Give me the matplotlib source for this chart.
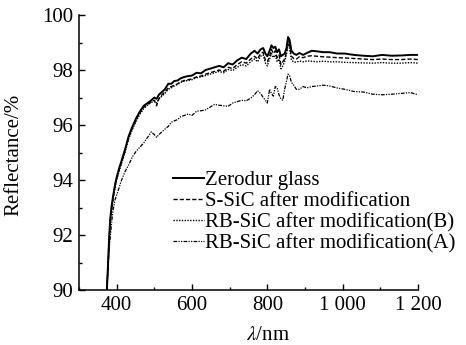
import matplotlib
matplotlib.use("Agg")
import matplotlib.pyplot as plt
from matplotlib.ticker import MultipleLocator, FixedLocator

plt.rcParams['font.family'] = ['Liberation Serif', 'DejaVu Serif']
plt.rcParams['mathtext.fontset'] = 'stix'

# wavelength (nm)
wl = [374, 377, 380, 383, 387, 391, 396, 400, 406, 413,
      422, 432, 442, 452, 462, 472, 482, 492, 500, 506,
      512, 520, 528, 537, 545, 553, 562, 570, 580, 590,
      600, 612, 624, 636, 648, 660, 672, 684, 696, 708,
      720, 732, 744, 756, 766, 774, 782, 789, 795, 800,
      806, 811, 816, 821, 826, 831, 836, 841, 846, 851,
      855, 859, 864, 870, 877, 885, 895, 905, 918, 932,
      948, 965, 985, 1005, 1030, 1055, 1080, 1105, 1130, 1155, 1180, 1200]

# reflectance (%)
zerodur = [90.0, 90.9, 91.9, 92.6, 93.1, 93.45, 93.85, 94.1, 94.4, 94.7,
           95.1, 95.6, 95.95, 96.25, 96.5, 96.7, 96.8, 96.9, 97.0, 96.95,
           97.1, 97.2, 97.3, 97.5, 97.5, 97.6, 97.62, 97.7, 97.75, 97.78,
           97.8, 97.9, 97.88, 98.0, 98.05, 98.1, 98.15, 98.1, 98.25, 98.2,
           98.35, 98.45, 98.4, 98.6, 98.7, 98.6, 98.75, 98.8, 98.6, 98.5,
           98.7, 98.9, 98.8, 98.85, 98.65, 98.75, 98.5, 98.55, 98.6, 98.8,
           99.2, 99.1, 98.7, 98.6, 98.55, 98.62, 98.55, 98.62, 98.7, 98.68,
           98.65, 98.65, 98.6, 98.6, 98.55, 98.52, 98.5, 98.55, 98.52, 98.53, 98.55, 98.55]

s_sic = [90.0, 90.85, 91.8, 92.5, 93.0, 93.4, 93.8, 94.05, 94.35, 94.65,
         95.05, 95.55, 95.9, 96.2, 96.45, 96.65, 96.75, 96.85, 96.9, 96.7,
         96.95, 97.1, 97.2, 97.35, 97.4, 97.45, 97.5, 97.58, 97.62, 97.65,
         97.68, 97.75, 97.78, 97.85, 97.9, 97.95, 98.0, 97.95, 98.1, 98.05,
         98.2, 98.3, 98.25, 98.4, 98.5, 98.4, 98.6, 98.65, 98.35, 98.3,
         98.5, 98.75, 98.6, 98.7, 98.45, 98.55, 98.2, 98.3, 98.4, 98.65,
         99.05, 98.9, 98.5, 98.42, 98.4, 98.48, 98.45, 98.5, 98.52, 98.5,
         98.48, 98.47, 98.45, 98.44, 98.42, 98.4, 98.38, 98.4, 98.38, 98.38, 98.4, 98.38]

rb_sic_b = [90.0, 90.8, 91.75, 92.45, 92.95, 93.35, 93.75, 94.0, 94.3, 94.6,
            95.0, 95.5, 95.85, 96.15, 96.4, 96.6, 96.72, 96.82, 96.88, 96.8,
            96.95, 97.05, 97.15, 97.3, 97.35, 97.42, 97.48, 97.55, 97.6, 97.62,
            97.65, 97.72, 97.75, 97.8, 97.85, 97.9, 97.95, 97.9, 98.02, 97.98,
            98.1, 98.2, 98.15, 98.3, 98.4, 98.3, 98.5, 98.55, 98.25, 98.15,
            98.4, 98.6, 98.45, 98.55, 98.3, 98.4, 98.05, 98.15, 98.3, 98.6,
            98.95, 98.8, 98.35, 98.3, 98.28, 98.33, 98.3, 98.33, 98.32, 98.3,
            98.32, 98.3, 98.3, 98.28, 98.27, 98.26, 98.25, 98.27, 98.25, 98.25, 98.27, 98.25]

rb_sic_a = [90.0, 90.8, 91.5, 91.9, 92.5, 92.95, 93.3, 93.45, 93.7, 94.0,
            94.3, 94.55, 94.85, 95.05, 95.2, 95.35, 95.55, 95.75, 95.65, 95.55,
            95.65, 95.75, 95.85, 95.95, 96.1, 96.15, 96.2, 96.3, 96.35, 96.4,
            96.35, 96.5, 96.52, 96.55, 96.65, 96.75, 96.72, 96.7, 96.68, 96.8,
            96.85, 96.9, 96.88, 96.98, 97.1, 97.25, 97.15, 97.0, 96.9, 96.8,
            97.3, 97.15, 97.05, 97.4, 97.35, 97.1, 96.95, 96.9, 97.3, 97.6,
            97.85, 97.8, 97.55, 97.45, 97.3, 97.3, 97.4, 97.35, 97.4, 97.42,
            97.45, 97.42, 97.35, 97.3, 97.22, 97.2, 97.12, 97.1, 97.12, 97.15, 97.18, 97.1]

labels = ['Zerodur glass', 'S-SiC after modification',
          'RB-SiC after modification(B)', 'RB-SiC after modification(A)']
xticks = [400, 600, 800, 1000, 1200]
xticklabels = ['400', '600', '800', '1 000', '1 200']
yticks = [90, 92, 94, 96, 98, 100]

fig = plt.figure(figsize=(4.66, 3.45), dpi=100)
ax = fig.add_axes([0.1695, 0.1594, 0.7275, 0.797])

ax.plot(wl, zerodur, color='black', lw=1.4, ls='-', label=labels[0])
ax.plot(wl, s_sic, color='black', lw=1.0, ls=(0, (3, 1.5)), label=labels[1])
ax.plot(wl, rb_sic_b, color='black', lw=1.0, ls=(0, (1, 1)), label=labels[2])
ax.plot(wl, rb_sic_a, color='black', lw=0.9, ls=(0, (3, 1, 1, 1, 1, 1)), label=labels[3])

ax.set_xlim(300, 1200)
ax.set_ylim(90, 100)
ax.xaxis.set_major_locator(FixedLocator(xticks))
ax.set_xticklabels(xticklabels)
ax.xaxis.set_minor_locator(MultipleLocator(100))
ax.set_yticks(yticks)
ax.yaxis.set_minor_locator(MultipleLocator(1))

for s in ['top', 'right']:
    ax.spines[s].set_visible(False)
for s in ['left', 'bottom']:
    ax.spines[s].set_linewidth(1.1)

ax.tick_params(which='major', direction='in', length=4, width=1.0, labelsize=15, pad=4)
ax.tick_params(which='minor', direction='in', length=2, width=1.0)

ax.set_xlabel(r'$\lambda$/nm', fontsize=15)
ax.xaxis.set_label_coords(0.557, -0.13)
ax.set_ylabel('Reflectance/%', fontsize=15)
ax.yaxis.set_label_coords(-0.165, 0.49)

ax.legend(loc='upper left', bbox_to_anchor=(0.372, 0.505), bbox_transform=fig.transFigure,
          frameon=False, fontsize=15, handlelength=1.45, handletextpad=0.05,
          labelspacing=0.07, borderaxespad=0, borderpad=0)

fig.savefig('out.png', dpi=100)
